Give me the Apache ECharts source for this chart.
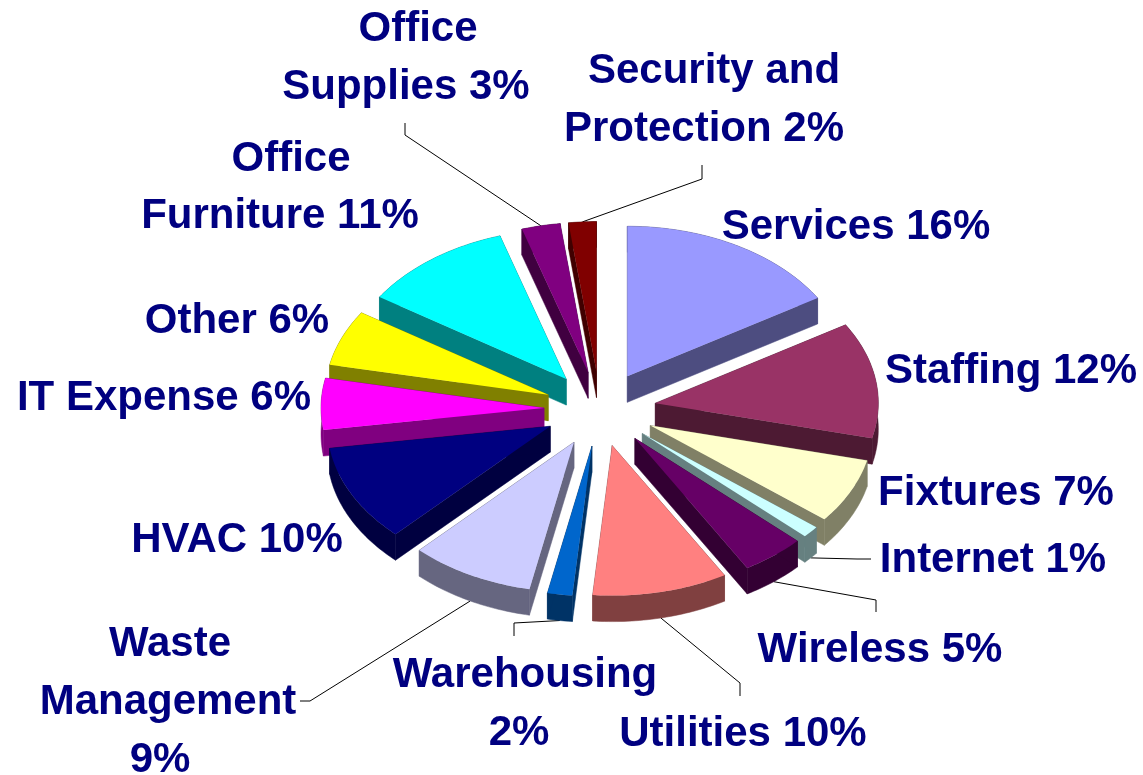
<!DOCTYPE html>
<html lang="en">
	<head>
		<meta charset="UTF-8">
		<title>Expense breakdown</title>
		<style>
			html, body { margin: 0; padding: 0; background: #fff; }
			#expense-pie { width: 1143px; height: 775px; }
		</style>
	</head>
	<body>
		<div id="expense-pie"></div>
		<script type="text/javascript" src="https://cdn.jsdelivr.net/npm/echarts@6/dist/echarts.min.js"></script>
		<script type="text/javascript">
			var categories = ['Services', 'Staffing', 'Fixtures', 'Internet', 'Wireless', 'Utilities', 'Warehousing',
				'Waste Management', 'HVAC', 'IT Expense', 'Other', 'Office Furniture', 'Office Supplies', 'Security and Protection'];
			var percents = [16.26, 12.49, 7.0, 1.25, 4.6, 9.8, 1.8, 9.0, 10.45, 5.55, 6.0, 11.0, 2.8, 2.0];
			var topColors = ['#9999FF', '#993366', '#FFFFCC', '#CCFFFF', '#660066', '#FF8080', '#0066CC',
				'#CCCCFF', '#000080', '#FF00FF', '#FFFF00', '#00FFFF', '#800080', '#800000'];
			var sideColors = ['#4D4D80', '#4D1A33', '#808066', '#668080', '#330033', '#804040', '#003366',
				'#666680', '#000040', '#800080', '#808000', '#008080', '#400040', '#400000'];

			// label lines: text before the percent goes on the lines, the percent is added to the last one
			var labelLines = [['Services '], ['Staffing '], ['Fixtures '], ['Internet '], ['Wireless '], ['Utilities '], ['Warehousing', ''],
				['Waste', 'Management', ''], ['HVAC '], ['IT Expense '], ['Other '], ['Office', 'Furniture '], ['Office', 'Supplies '], ['Security and', 'Protection ']];
			// centre of each label line
			var labelCenters = [
				[[856, 227]], [[1011, 371]], [[996, 493]], [[993, 560]], [[880, 650]], [[743, 734]],
				[[525, 675], [519, 733]],
				[[170, 644], [168, 702], [160, 760]],
				[[237, 540]], [[164, 398]], [[237, 321]],
				[[291, 159], [280, 216]],
				[[418, 29], [406, 87]],
				[[714, 71], [704, 129]]
			];
			var leaderElbows = {
				3: [[871, 559], [857, 559]],
				4: [[876, 612], [876, 600]],
				5: [[740, 696], [740, 683]],
				6: [[514, 636], [514, 623]],
				7: [[300, 701], [310, 701]],
				12: [[405, 123], [405, 135]],
				13: [[702, 165], [702, 179]]
			};
			var cx = 600, cy = 409, rx = 223, ry = 150, depth = 26;
			var explodeX = 56, explodeY = 37.5;

			var total = percents.reduce(function (a, b) { return a + b; }, 0);
			var starts = [], sofar = 0;
			percents.forEach(function (p) { starts.push(sofar); sofar += p; });

			function toAngle(pct) { return pct / total * Math.PI * 2; }

			function slice(i) {
				var a0 = toAngle(starts[i]), a1 = toAngle(starts[i] + percents[i]), mid = (a0 + a1) / 2;
				return {
					a0: a0, a1: a1, mid: mid,
					x: cx + explodeX * Math.sin(mid),
					y: cy - explodeY * Math.cos(mid)
				};
			}

			function rimPoint(s, a, drop) {
				return [s.x + rx * Math.sin(a), s.y - ry * Math.cos(a) + drop];
			}

			// back slices first so the front ones cover their side walls
			var order = percents.map(function (p, i) { return i; }).sort(function (a, b) {
				return Math.cos(slice(b).mid) - Math.cos(slice(a).mid);
			});

			function renderSlice(params, api) {
				var i = params.dataIndex;
				var s = slice(i);
				var rank = order.indexOf(i) * 10 + 10;
				var topPts = [[s.x, s.y]], wallPts = [];
				var steps = Math.max(4, Math.round((s.a1 - s.a0) / Math.PI * 180));
				var k, a;
				for (k = 0; k <= steps; k++) {
					a = s.a0 + (s.a1 - s.a0) * k / steps;
					topPts.push(rimPoint(s, a, 0));
					wallPts.push(rimPoint(s, a, 0));
				}
				for (k = steps; k >= 0; k--) {
					a = s.a0 + (s.a1 - s.a0) * k / steps;
					wallPts.push(rimPoint(s, a, depth));
				}
				var wallStyle = { fill: sideColors[i], stroke: sideColors[i], lineWidth: 0.5 };
				var children = [
					{ type: 'polygon', z2: rank, shape: { points: wallPts }, style: wallStyle },
					{ type: 'polygon', z2: rank + 1, shape: { points: [[s.x, s.y], rimPoint(s, s.a0, 0), rimPoint(s, s.a0, depth), [s.x, s.y + depth]] }, style: wallStyle },
					{ type: 'polygon', z2: rank + 1, shape: { points: [[s.x, s.y], rimPoint(s, s.a1, 0), rimPoint(s, s.a1, depth), [s.x, s.y + depth]] }, style: wallStyle },
					{ type: 'polygon', z2: rank + 2, shape: { points: topPts }, style: { fill: topColors[i] } }
				];
				var lines = labelLines[i];
				lines.forEach(function (line, n) {
					var text = n === lines.length - 1 ? line + Math.round(api.value(0)) + '%' : line;
					children.push({
						type: 'text', z2: 500,
						style: {
							text: text, x: labelCenters[i][n][0], y: labelCenters[i][n][1],
							align: 'center', verticalAlign: 'middle',
							font: 'bold 42px "Liberation Sans", Arial, sans-serif',
							fill: '#000080'
						}
					});
				});
				if (leaderElbows[i]) {
					var end = rimPoint(s, s.mid, Math.cos(s.mid) < 0 ? depth : 0);
					children.unshift({
						type: 'polyline', z2: 1,
						shape: { points: leaderElbows[i].concat([end]) },
						style: { stroke: '#000', lineWidth: 1, fill: null }
					});
				}
				return { type: 'group', children: children };
			}

			var myChart = echarts.init(document.getElementById('expense-pie'));
			var option = {
				backgroundColor: '#fff',
				animation: false,
				series: [{
					type: 'custom',
					coordinateSystem: 'none',
					renderItem: renderSlice,
					data: percents.map(function (p, i) { return { name: categories[i], value: p }; })
				}]
			};
			myChart.setOption(option);
		</script>
	</body>
</html>
